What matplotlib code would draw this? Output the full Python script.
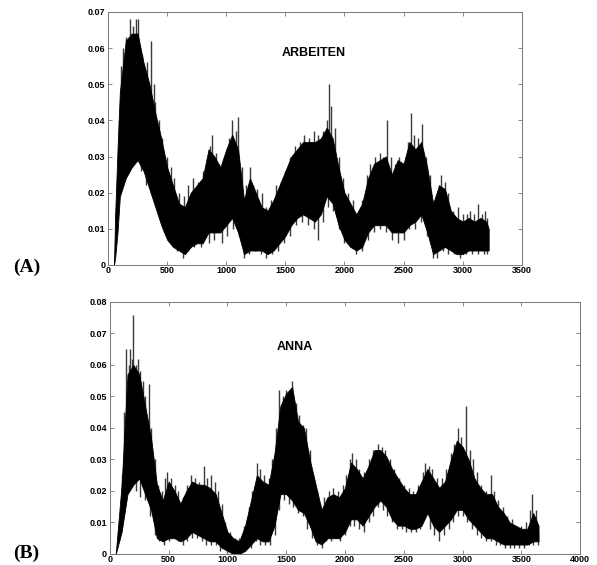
import matplotlib
matplotlib.use("Agg")
import matplotlib.pyplot as plt
import numpy as np

plt.rcParams['font.family'] = ['Liberation Sans', 'DejaVu Sans']

# (A) ARBEITEN - dense band of the signal
a_x = [0, 50, 60, 80, 100, 150, 200, 250, 300, 350, 400, 450, 500, 550, 600, 650,
       700, 750, 800, 850, 900, 950, 1000, 1050, 1100, 1150, 1200, 1250, 1300, 1350,
       1400, 1450, 1500, 1550, 1600, 1650, 1700, 1750, 1800, 1850, 1900, 1950, 2000,
       2050, 2100, 2150, 2200, 2250, 2300, 2350, 2400, 2450, 2500, 2550, 2600, 2650,
       2700, 2750, 2800, 2850, 2900, 2950, 3000, 3050, 3100, 3150, 3200, 3220]
a_hi = [0, 0, 0.014, 0.032, 0.048, 0.062, 0.064, 0.064, 0.056, 0.050, 0.042, 0.035, 0.027,
        0.022, 0.017, 0.016, 0.020, 0.022, 0.024, 0.032, 0.030, 0.027, 0.032, 0.036, 0.032,
        0.018, 0.024, 0.020, 0.016, 0.015, 0.018, 0.022, 0.026, 0.030, 0.032, 0.034, 0.034,
        0.034, 0.035, 0.038, 0.035, 0.027, 0.020, 0.017, 0.014, 0.017, 0.024, 0.028, 0.029,
        0.030, 0.025, 0.029, 0.028, 0.034, 0.032, 0.034, 0.027, 0.017, 0.022, 0.021, 0.015,
        0.013, 0.012, 0.013, 0.012, 0.013, 0.012, 0.010]
a_lo = [0, 0, 0.002, 0.009, 0.019, 0.024, 0.027, 0.029, 0.026, 0.021, 0.016, 0.011, 0.007,
        0.005, 0.004, 0.003, 0.005, 0.006, 0.006, 0.009, 0.009, 0.009, 0.011, 0.013, 0.009,
        0.003, 0.004, 0.004, 0.004, 0.003, 0.004, 0.006, 0.008, 0.011, 0.013, 0.014, 0.013,
        0.012, 0.014, 0.019, 0.017, 0.011, 0.007, 0.005, 0.004, 0.005, 0.009, 0.011, 0.011,
        0.011, 0.009, 0.009, 0.009, 0.011, 0.012, 0.014, 0.009, 0.003, 0.004, 0.005, 0.004,
        0.003, 0.003, 0.004, 0.004, 0.004, 0.004, 0.004]
# spikes above the band and dips below it
a_up_x = [90, 110, 130, 150, 170, 185, 200, 215, 235, 250, 265, 285, 305, 330, 350, 365,
          385, 400, 430, 460, 500, 530, 560, 600, 640, 680, 720, 760, 800, 830, 860, 880,
          910, 940, 980, 1020, 1050, 1080, 1100, 1130, 1170, 1200, 1230, 1260, 1300, 1340,
          1380, 1420, 1460, 1500, 1540, 1580, 1620, 1660, 1700, 1740, 1780, 1820, 1850,
          1870, 1890, 1920, 1950, 1990, 2030, 2070, 2110, 2150, 2190, 2220, 2260, 2300,
          2330, 2360, 2390, 2430, 2460, 2500, 2540, 2560, 2590, 2620, 2660, 2690, 2720,
          2760, 2800, 2820, 2850, 2880, 2920, 2960, 3000, 3040, 3060, 3100, 3130, 3160,
          3190, 3210]
a_up_y = [0.040, 0.055, 0.060, 0.063, 0.062, 0.068, 0.064, 0.066, 0.068, 0.068, 0.060,
          0.058, 0.055, 0.056, 0.050, 0.062, 0.050, 0.045, 0.040, 0.035, 0.030, 0.027,
          0.024, 0.020, 0.019, 0.022, 0.024, 0.023, 0.026, 0.028, 0.033, 0.036, 0.031,
          0.028, 0.030, 0.035, 0.040, 0.037, 0.041, 0.027, 0.022, 0.027, 0.022, 0.021,
          0.020, 0.016, 0.018, 0.022, 0.023, 0.026, 0.030, 0.033, 0.034, 0.036, 0.035,
          0.037, 0.036, 0.037, 0.040, 0.050, 0.044, 0.038, 0.030, 0.024, 0.020, 0.018,
          0.014, 0.018, 0.025, 0.028, 0.030, 0.031, 0.030, 0.040, 0.030, 0.028, 0.030,
          0.028, 0.034, 0.042, 0.036, 0.035, 0.039, 0.030, 0.025, 0.018, 0.022, 0.025,
          0.023, 0.020, 0.015, 0.016, 0.014, 0.014, 0.015, 0.014, 0.017, 0.014, 0.015,
          0.013]
a_dn_x = [70, 120, 160, 200, 240, 280, 320, 360, 420, 470, 520, 580, 630, 680, 730, 790,
          850, 900, 960, 1010, 1060, 1110, 1150, 1190, 1240, 1290, 1340, 1390, 1440, 1490,
          1540, 1590, 1640, 1690, 1740, 1780, 1820, 1860, 1900, 1950, 2000, 2050, 2100,
          2150, 2200, 2250, 2300, 2350, 2400, 2450, 2500, 2550, 2600, 2650, 2700, 2750,
          2780, 2830, 2880, 2930, 2980, 3030, 3080, 3130, 3180, 3210]
a_dn_y = [0.008, 0.022, 0.025, 0.027, 0.030, 0.026, 0.022, 0.020, 0.014, 0.009, 0.006,
          0.004, 0.002, 0.004, 0.005, 0.005, 0.006, 0.007, 0.006, 0.008, 0.010, 0.008,
          0.002, 0.003, 0.004, 0.003, 0.002, 0.003, 0.004, 0.006, 0.008, 0.011, 0.012,
          0.011, 0.010, 0.007, 0.012, 0.016, 0.015, 0.010, 0.006, 0.005, 0.003, 0.004,
          0.007, 0.009, 0.010, 0.009, 0.007, 0.006, 0.007, 0.010, 0.010, 0.012, 0.008,
          0.002, 0.002, 0.004, 0.003, 0.003, 0.002, 0.003, 0.003, 0.003, 0.003, 0.003]

# (B) ANNA
b_x = [0, 50, 100, 150, 200, 250, 300, 350, 400, 450, 500, 550, 600, 650, 700, 750,
       800, 850, 900, 950, 1000, 1050, 1100, 1150, 1200, 1250, 1300, 1350, 1400, 1450,
       1500, 1550, 1600, 1650, 1700, 1750, 1800, 1850, 1900, 1950, 2000, 2050, 2100,
       2150, 2200, 2250, 2300, 2350, 2400, 2450, 2500, 2550, 2600, 2650, 2700, 2750,
       2800, 2850, 2900, 2950, 3000, 3050, 3100, 3150, 3200, 3250, 3300, 3350, 3400,
       3450, 3500, 3550, 3600, 3645]
b_hi = [0, 0, 0.022, 0.057, 0.060, 0.057, 0.047, 0.037, 0.022, 0.017, 0.023, 0.020, 0.016,
        0.020, 0.023, 0.022, 0.022, 0.021, 0.019, 0.013, 0.007, 0.005, 0.004, 0.009, 0.017,
        0.025, 0.023, 0.022, 0.032, 0.047, 0.051, 0.053, 0.042, 0.040, 0.030, 0.022, 0.014,
        0.018, 0.019, 0.018, 0.021, 0.029, 0.027, 0.024, 0.028, 0.033, 0.033, 0.031, 0.027,
        0.024, 0.021, 0.019, 0.019, 0.023, 0.027, 0.024, 0.021, 0.023, 0.030, 0.036, 0.034,
        0.030, 0.024, 0.021, 0.019, 0.019, 0.015, 0.013, 0.010, 0.009, 0.008, 0.008, 0.013,
        0.009]
b_lo = [0, 0, 0.007, 0.019, 0.022, 0.024, 0.019, 0.014, 0.005, 0.004, 0.005, 0.005, 0.004,
        0.005, 0.007, 0.006, 0.005, 0.004, 0.004, 0.002, 0.001, 0.0, 0.0, 0.001, 0.003,
        0.005, 0.004, 0.004, 0.009, 0.019, 0.019, 0.017, 0.014, 0.013, 0.009, 0.004, 0.003,
        0.005, 0.005, 0.005, 0.007, 0.011, 0.011, 0.009, 0.012, 0.015, 0.017, 0.015, 0.011,
        0.009, 0.009, 0.008, 0.008, 0.009, 0.013, 0.009, 0.007, 0.009, 0.011, 0.014, 0.014,
        0.011, 0.009, 0.007, 0.005, 0.005, 0.004, 0.003, 0.003, 0.003, 0.003, 0.003, 0.004,
        0.004]
b_up_x = [100, 120, 140, 160, 170, 190, 200, 220, 240, 260, 280, 300, 330, 350, 380, 410,
          440, 470, 490, 520, 550, 580, 620, 660, 690, 720, 760, 800, 830, 860, 890, 920,
          950, 980, 1020, 1060, 1100, 1140, 1180, 1210, 1250, 1280, 1310, 1350, 1380, 1410,
          1440, 1470, 1500, 1530, 1550, 1580, 1610, 1640, 1670, 1700, 1730, 1760, 1790,
          1820, 1860, 1900, 1940, 1980, 2010, 2040, 2060, 2090, 2120, 2160, 2200, 2240,
          2280, 2310, 2340, 2380, 2420, 2460, 2500, 2540, 2580, 2620, 2660, 2680, 2710,
          2740, 2780, 2820, 2860, 2900, 2930, 2960, 2990, 3030, 3060, 3090, 3120, 3160,
          3200, 3240, 3270, 3300, 3340, 3380, 3420, 3460, 3500, 3540, 3570, 3590, 3620]
b_up_y = [0.025, 0.045, 0.065, 0.060, 0.065, 0.062, 0.076, 0.060, 0.062, 0.058, 0.055,
          0.050, 0.054, 0.040, 0.030, 0.022, 0.020, 0.024, 0.026, 0.024, 0.022, 0.020,
          0.018, 0.022, 0.025, 0.024, 0.023, 0.028, 0.024, 0.025, 0.023, 0.020, 0.016,
          0.010, 0.007, 0.005, 0.005, 0.009, 0.015, 0.020, 0.029, 0.027, 0.025, 0.024,
          0.030, 0.040, 0.052, 0.050, 0.052, 0.050, 0.055, 0.048, 0.044, 0.041, 0.040,
          0.033, 0.025, 0.020, 0.016, 0.018, 0.020, 0.021, 0.020, 0.022, 0.025, 0.030,
          0.032, 0.030, 0.027, 0.026, 0.030, 0.033, 0.035, 0.034, 0.033, 0.030, 0.027,
          0.024, 0.022, 0.021, 0.020, 0.022, 0.026, 0.029, 0.028, 0.027, 0.024, 0.024,
          0.027, 0.032, 0.035, 0.040, 0.037, 0.047, 0.033, 0.030, 0.026, 0.022, 0.020,
          0.025, 0.020, 0.017, 0.015, 0.012, 0.011, 0.009, 0.009, 0.010, 0.014, 0.019,
          0.014]
b_dn_x = [80, 120, 150, 180, 220, 260, 300, 340, 380, 420, 460, 500, 540, 580, 620, 660,
          700, 740, 780, 820, 860, 900, 940, 1000, 1200, 1240, 1280, 1320, 1360, 1400,
          1440, 1480, 1520, 1560, 1600, 1640, 1680, 1720, 1760, 1800, 1840, 1880, 1920,
          1960, 2000, 2040, 2080, 2120, 2160, 2200, 2240, 2280, 2320, 2360, 2400, 2440,
          2480, 2520, 2560, 2600, 2640, 2680, 2720, 2760, 2800, 2840, 2880, 2920, 2960,
          3000, 3040, 3080, 3120, 3160, 3200, 3240, 3280, 3320, 3360, 3400, 3440, 3480,
          3520, 3560, 3600, 3640]
b_dn_y = [0.004, 0.015, 0.020, 0.022, 0.020, 0.018, 0.017, 0.012, 0.006, 0.004, 0.003,
          0.004, 0.005, 0.004, 0.003, 0.004, 0.005, 0.005, 0.004, 0.003, 0.003, 0.003,
          0.001, 0.000, 0.002, 0.004, 0.003, 0.003, 0.003, 0.006, 0.014, 0.017, 0.016,
          0.015, 0.013, 0.012, 0.008, 0.005, 0.003, 0.002, 0.004, 0.004, 0.005, 0.004,
          0.006, 0.009, 0.009, 0.008, 0.007, 0.010, 0.012, 0.015, 0.014, 0.012, 0.010,
          0.008, 0.008, 0.007, 0.007, 0.007, 0.008, 0.012, 0.008, 0.006, 0.004, 0.006,
          0.008, 0.010, 0.012, 0.012, 0.010, 0.008, 0.006, 0.005, 0.004, 0.004, 0.003,
          0.003, 0.002, 0.002, 0.002, 0.002, 0.002, 0.003, 0.003, 0.003]

fig = plt.figure(figsize=(5.97, 5.65), dpi=100)
ax1 = fig.add_axes([0.181, 0.531, 0.693, 0.448])
ax2 = fig.add_axes([0.184, 0.0195, 0.788, 0.446])


def draw(ax, x, hi, lo, ux, uy, dx, dy, xmax, ymax, title, tpos):
    mid = (np.array(hi) + np.array(lo)) / 2
    # spikes underneath, black band on top of them
    ax.vlines(ux, np.interp(ux, x, mid), uy, colors="#3a3a3a", linewidth=1.0, zorder=1)
    ax.vlines(dx, dy, np.interp(dx, x, mid), colors="#3a3a3a", linewidth=1.0, zorder=1)
    ax.fill_between(x, lo, hi, facecolor="black", edgecolor="black", linewidth=0.6,
                    zorder=2)
    ax.set_xlim(0, xmax)
    ax.set_ylim(0, ymax)
    ax.set_xticks(range(0, xmax + 1, 500))
    ax.set_xticklabels([str(v) for v in range(0, xmax + 1, 500)])
    yt = [i / 100 for i in range(0, int(round(ymax * 100)) + 1)]
    ax.set_yticks(yt)
    ax.set_yticklabels(["0"] + ["%.2f" % v for v in yt[1:]])
    ax.tick_params(direction="in", length=3, width=0.6, top=True, right=True,
                   labelsize=6.5, pad=2, color="#777777")
    ax.tick_params(axis="x", pad=1)
    for lab in ax.get_xticklabels() + ax.get_yticklabels():
        lab.set_fontweight("bold")
    for sp in ax.spines.values():
        sp.set_linewidth(0.7)
        sp.set_color("#777777")
    ax.text(tpos[0], tpos[1], title, transform=ax.transAxes, ha="center", va="center",
            fontsize=9, fontweight="bold")


draw(ax1, a_x, a_hi, a_lo, a_up_x, a_up_y, a_dn_x, a_dn_y, 3500, 0.07,
     "ARBEITEN", (0.497, 0.838))
draw(ax2, b_x, b_hi, b_lo, b_up_x, b_up_y, b_dn_x, b_dn_y, 4000, 0.08,
     "ANNA", (0.394, 0.822))

fig.text(0.022, 0.526, "(A)", family="Liberation Serif", fontweight="bold", fontsize=14,
         va="center")
fig.text(0.022, 0.021, "(B)", family="Liberation Serif", fontweight="bold", fontsize=14,
         va="center")

fig.savefig("out.png", dpi=100)
